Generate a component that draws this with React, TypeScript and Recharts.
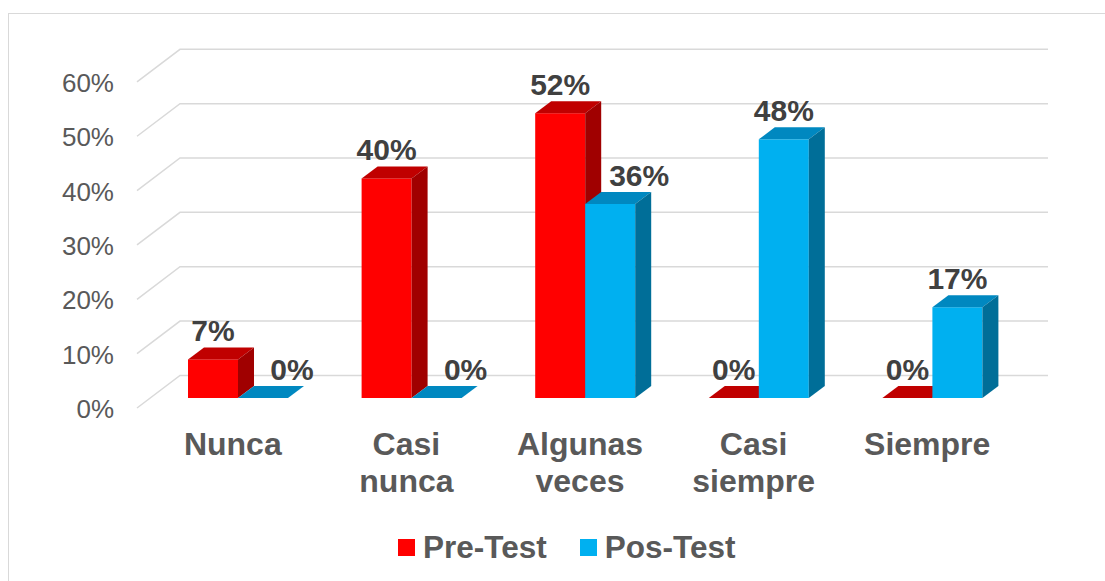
import React from 'react';
import { BarChart, Bar, XAxis, YAxis, CartesianGrid, Legend, LabelList } from 'recharts';

const categories = ['Nunca', 'Casi nunca', 'Algunas veces', 'Casi siempre', 'Siempre'];
const preTest = [0.071, 0.404, 0.524, 0, 0];
const posTest = [0, 0, 0.357, 0.476, 0.167];
const yTicks = [0, 0.1, 0.2, 0.3, 0.4, 0.5, 0.6];
const seriesNames = ['Pre-Test', 'Pos-Test'];

const data = categories.map((c, i) => ({ name: c, pre: preTest[i], pos: posTest[i] }));

const FONT = "'Liberation Sans', Arial, sans-serif";
const PLOT_LEFT = 151;
const DX = 16;
const DY = 12;
const FRONT_DX = -14;
const FRONT_DY = 10;
const BACK_DX = 29;
const BACK_DY = -22.6;

const COLORS = {
  pre: { front: '#FF0000', top: '#C00000', side: '#A00000' },
  pos: { front: '#00B0F0', top: '#0088C0', side: '#006E98' },
};

function Box3D(props: any) {
  const { x, y, width, height, colors } = props;
  if (x == null || y == null) return null;
  const w = width;
  const h = Math.max(0, height);
  return (
    <g>
      {h > 0 && <rect x={x} y={y} width={w} height={h} fill={colors.front} />}
      <polygon
        points={`${x},${y} ${x + DX},${y - DY} ${x + w + DX},${y - DY} ${x + w},${y}`}
        fill={colors.top}
      />
      {h > 0 && (
        <polygon
          points={`${x + w},${y} ${x + w + DX},${y - DY} ${x + w + DX},${y + h - DY} ${x + w},${y + h}`}
          fill={colors.side}
        />
      )}
    </g>
  );
}

function GridLine(p: any) {
  const { x1, x2, y1 } = p;
  const d = `M${x1 + FRONT_DX},${y1 + FRONT_DY} L${x1 + BACK_DX},${y1 + BACK_DY} L${x2 + BACK_DX},${y1 + BACK_DY}`;
  return <path key={`g-${y1}`} d={d} stroke="#D9D9D9" strokeWidth={1.5} fill="none" />;
}

function YTick(p: any) {
  const { y, payload } = p;
  return (
    <text x={PLOT_LEFT - 37} y={y + FRONT_DY + 10} textAnchor="end" fill="#595959" fontSize={26} fontFamily={FONT}>
      {`${Math.round(payload.value * 100)}%`}
    </text>
  );
}

function XTick(p: any) {
  const { x, y, payload } = p;
  const lines = String(payload.value).split(' ');
  return (
    <text x={x - 5} y={y} textAnchor="middle" fill="#595959" fontSize={32} fontWeight="bold" fontFamily={FONT}>
      {lines.map((l, i) => (
        <tspan key={i} x={x - 5} dy={i === 0 ? 55 : 37}>
          {l}
        </tspan>
      ))}
    </text>
  );
}

function makeLabel(series: 'pre' | 'pos') {
  return (p: any) => {
    const { x, y, width, value, index } = p;
    let cx = x + width / 2;
    if (series === 'pos' && preTest[index] > posTest[index]) cx += 29;
    return (
      <text x={cx} y={y - 18} textAnchor="middle" fill="#404040" fontSize={30} fontWeight="bold" fontFamily={FONT}>
        {`${Math.round(value * 100)}%`}
      </text>
    );
  };
}

function LegendContent() {
  const items = [
    { name: seriesNames[0], color: COLORS.pre.front },
    { name: seriesNames[1], color: COLORS.pos.front },
  ];
  return (
    <div style={{ display: 'flex', alignItems: 'center', fontFamily: FONT, height: 34 }}>
      {items.map((it, i) => (
        <div key={it.name} style={{ display: 'flex', alignItems: 'center', marginRight: i === 0 ? 33 : 0 }}>
          <div style={{ width: 17, height: 17, background: it.color, marginRight: 8 }} />
          <span style={{ fontSize: 31.5, fontWeight: 'bold', color: '#595959', lineHeight: '34px' }}>{it.name}</span>
        </div>
      ))}
    </div>
  );
}

export default function App() {
  return (
    <div style={{ position: 'absolute', left: 0, top: 0, width: 1105, height: 581, overflow: 'hidden', background: '#fff' }}>
      <div
        style={{
          position: 'absolute',
          left: 8,
          top: 13,
          width: 1120,
          height: 600,
          border: '1.5px solid #D9D9D9',
          boxSizing: 'border-box',
        }}
      />
      <div style={{ position: 'absolute', left: 0, top: 0 }}>
        <BarChart
          width={1105}
          height={581}
          data={data}
          margin={{ top: 71.9, right: 86, bottom: 49, left: 91 }}
          barGap={0}
          barSize={50}
        >
          <CartesianGrid vertical={false} horizontal={GridLine as any} />
          <XAxis dataKey="name" axisLine={false} tickLine={false} tickSize={0} height={100} tick={<XTick />} interval={0} />
          <YAxis
            width={60}
            domain={[0, 0.6]}
            ticks={yTicks}
            axisLine={false}
            tickLine={false}
            tick={<YTick />}
            interval={0}
          />
          <Legend
            content={<LegendContent />}
            wrapperStyle={{ position: 'absolute', left: 398, top: 530, width: 'auto' }}
          />
          <Bar dataKey="pre" name={seriesNames[0]} isAnimationActive={false} shape={(p: any) => <Box3D {...p} colors={COLORS.pre} />}>
            <LabelList dataKey="pre" content={makeLabel('pre')} />
          </Bar>
          <Bar dataKey="pos" name={seriesNames[1]} isAnimationActive={false} shape={(p: any) => <Box3D {...p} colors={COLORS.pos} />}>
            <LabelList dataKey="pos" content={makeLabel('pos')} />
          </Bar>
        </BarChart>
      </div>
    </div>
  );
}
